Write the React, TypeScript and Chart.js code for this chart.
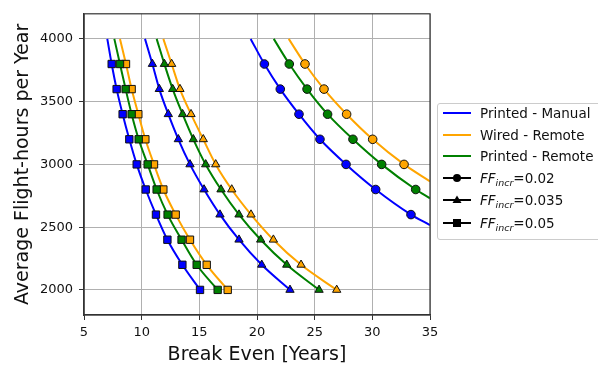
import React, { useEffect, useRef } from "react";
import { Chart, registerables } from "chart.js";

Chart.register(...registerables);

// ---------- data ----------
const X_TICKS = [5, 10, 15, 20, 25, 30, 35];
const Y_TICKS = [2000, 2500, 3000, 3500, 4000];

// flight-hours at which markers are drawn
const Y_MARKERS = [2000, 2200, 2400, 2600, 2800, 3000, 3200, 3400, 3600, 3800];
// all curves start at this flight-hours value (top of line)
const Y_TOP = 4000;

const SERIES = ["Printed - Manual", "Wired - Remote", "Printed - Remote"];
const COLORS = ["#0000ff", "#ffa500", "#008000"];
const FF_VALUES = ["0.02", "0.035", "0.05"];
const FF_MARKERS = ["circle", "triangle", "rect"];

// break-even years at each Y_MARKERS value (null = outside the axes)
// FF_incr = 0.02 (circles)
const MANUAL_FF002 = [null, null, null, 33.35, 30.29, 27.72, 25.46, 23.64, 22.02, 20.64];
const WIRED_FF002 = [null, null, null, null, null, 32.75, 30.03, 27.77, 25.81, 24.16];
const PREMOTE_FF002 = [null, null, null, null, 33.76, 30.81, 28.32, 26.12, 24.34, 22.8];
// FF_incr = 0.035 (triangles)
const MANUAL_FF0035 = [22.86, 20.41, 18.44, 16.79, 15.41, 14.19, 13.18, 12.31, 11.53, 10.93];
const WIRED_FF0035 = [26.91, 23.82, 21.42, 19.48, 17.81, 16.42, 15.34, 14.28, 13.32, 12.6];
const PREMOTE_FF0035 = [25.38, 22.58, 20.32, 18.44, 16.88, 15.55, 14.48, 13.55, 12.69, 11.97];
// FF_incr = 0.05 (squares)
const MANUAL_FF005 = [15.06, 13.53, 12.23, 11.24, 10.35, 9.57, 8.93, 8.35, 7.83, 7.4];
const WIRED_FF005 = [17.46, 15.64, 14.19, 12.95, 11.88, 11.07, 10.32, 9.71, 9.13, 8.64];
const PREMOTE_FF005 = [16.59, 14.77, 13.46, 12.25, 11.3, 10.52, 9.74, 9.13, 8.61, 8.12];

// break-even years where each curve starts (at Y_TOP): [FF0.02, FF0.035, FF0.05]
const MANUAL_TOP = [19.45, 10.29, 7.02];
const WIRED_TOP = [22.75, 11.88, 8.12];
const PREMOTE_TOP = [21.45, 11.3, 7.63];

// flight-hours where FF0.02 curves leave the plot at the right edge (x = 35)
const EDGE_X = 35;
const FF002_EDGE_Y = [2516, 2865, 2730]; // manual, wired, printed-remote

const CURVES = [
  [MANUAL_FF002, MANUAL_FF0035, MANUAL_FF005],
  [WIRED_FF002, WIRED_FF0035, WIRED_FF005],
  [PREMOTE_FF002, PREMOTE_FF0035, PREMOTE_FF005],
];
const TOPS = [MANUAL_TOP, WIRED_TOP, PREMOTE_TOP];

const FONT = "'DejaVu Sans', sans-serif";

function buildDatasets() {
  const lines: any[] = [];
  const marks: any[] = [];
  CURVES.forEach((group, s) => {
    group.forEach((xs, f) => {
      const pts: { x: number; y: number }[] = [];
      xs.forEach((x, i) => {
        if (x !== null) pts.push({ x: x as number, y: Y_MARKERS[i] });
      });
      const linePts = [...pts];
      if (f === 0) linePts.unshift({ x: EDGE_X, y: FF002_EDGE_Y[s] });
      linePts.push({ x: TOPS[s][f], y: Y_TOP });
      lines.push({
        data: linePts,
        showLine: true,
        borderColor: COLORS[s],
        borderWidth: 2,
        pointRadius: 0,
        cubicInterpolationMode: "monotone",
        order: 10 - s,
      });
      marks.push({
        data: pts,
        showLine: false,
        pointStyle: FF_MARKERS[f],
        pointRadius: f === 0 ? 4.3 : f === 1 ? 4.8 : 5.2,
        pointBackgroundColor: COLORS[s],
        pointBorderColor: "#111",
        pointBorderWidth: 1,
        order: 3 - s,
      });
    });
  });
  return [...lines, ...marks];
}

const framePlugin = {
  id: "frame",
  afterDraw(chart: any) {
    const { ctx, chartArea } = chart;
    const { left, top, right, bottom } = chartArea;
    ctx.save();
    ctx.strokeStyle = "#333";
    ctx.lineWidth = 1.2;
    ctx.strokeRect(left, top, right - left, bottom - top);
    ctx.restore();
  },
};

function LegendIcon({ color, marker }: { color: string; marker?: string }) {
  return (
    <svg width="30" height="14" style={{ display: "block" }}>
      <line x1="1" y1="7" x2="29" y2="7" stroke={color} strokeWidth="2" />
      {marker === "circle" && <circle cx="15" cy="7" r="4" fill="#000" />}
      {marker === "triangle" && <polygon points="15,2.5 19.5,10 10.5,10" fill="#000" />}
      {marker === "rect" && <rect x="11" y="3" width="8" height="8" fill="#000" />}
    </svg>
  );
}

export default function App() {
  const ref = useRef<HTMLCanvasElement | null>(null);

  useEffect(() => {
    if (!ref.current) return;
    const chart = new Chart(ref.current, {
      type: "scatter",
      data: { datasets: buildDatasets() },
      options: {
        animation: false,
        responsive: true,
        maintainAspectRatio: false,
        events: [],
        layout: { padding: { left: 0, top: 13, right: 168, bottom: 0 } },
        plugins: { legend: { display: false }, tooltip: { enabled: false } },
        scales: {
          x: {
            type: "linear",
            min: 5,
            max: 35,
            afterBuildTicks: (axis: any) => {
              axis.ticks = X_TICKS.map((v) => ({ value: v }));
            },
            afterFit: (axis: any) => {
              axis.height = 50;
            },
            ticks: {
              color: "#111",
              font: { family: FONT, size: 13 },
              padding: 5,
              maxRotation: 0,
              callback: (v: any) => String(v),
            },
            grid: { color: "#b0b0b0", lineWidth: 1, tickLength: 5, tickColor: "#333" },
            border: { display: true, color: "#333", width: 1.2 },
            title: {
              display: true,
              text: "Break Even [Years]",
              color: "#111",
              font: { family: FONT, size: 19, lineHeight: 1 },
              padding: { top: 0, bottom: 0 },
            },
          },
          y: {
            type: "linear",
            min: 1800,
            max: 4200,
            afterBuildTicks: (axis: any) => {
              axis.ticks = Y_TICKS.map((v) => ({ value: v }));
            },
            afterFit: (axis: any) => {
              axis.width = 84;
            },
            ticks: {
              color: "#111",
              font: { family: FONT, size: 13 },
              padding: 6,
              callback: (v: any) => String(v),
            },
            grid: { color: "#b0b0b0", lineWidth: 1, tickLength: 5, tickColor: "#333" },
            border: { display: true, color: "#333", width: 1.2 },
            title: {
              display: true,
              text: "Average Flight-hours per Year",
              color: "#111",
              font: { family: FONT, size: 19, lineHeight: 1 },
              padding: { top: 14, bottom: 0 },
            },
          },
        },
      },
      plugins: [framePlugin],
    } as any);
    return () => chart.destroy();
  }, []);

  const rowCenters = [9, 30.5, 52, 73.5, 96, 118.5];
  const rows: { icon: React.ReactNode; label: React.ReactNode }[] = [
    ...SERIES.map((s, i) => ({ icon: <LegendIcon color={COLORS[i]} />, label: <span>{s}</span> })),
    ...FF_VALUES.map((v, i) => ({
      icon: <LegendIcon color="#000" marker={FF_MARKERS[i]} />,
      label: (
        <span>
          <i>FF</i>
          <i style={{ fontSize: "9.5px", position: "relative", top: "3px" }}>incr</i>={v}
        </span>
      ),
    })),
  ];

  return (
    <div style={{ position: "absolute", left: 0, top: 0, width: 598, height: 365, overflow: "hidden", background: "#fff" }}>
      <canvas ref={ref} />
      <div
        style={{
          position: "absolute",
          left: 437,
          top: 103,
          width: 175,
          height: 137,
          border: "1px solid #cccccc",
          borderRadius: 3,
          background: "rgba(255,255,255,0.85)",
          boxSizing: "border-box",
          fontFamily: FONT,
          fontSize: "13.5px",
          color: "#111",
        }}
      >
        {rows.map((r, i) => (
          <div
            key={i}
            style={{
              position: "absolute",
              left: 4,
              top: rowCenters[i] - 10,
              height: 20,
              display: "flex",
              alignItems: "center",
              whiteSpace: "nowrap",
            }}
          >
            <div style={{ width: 38 }}>{r.icon}</div>
            {r.label}
          </div>
        ))}
      </div>
    </div>
  );
}
